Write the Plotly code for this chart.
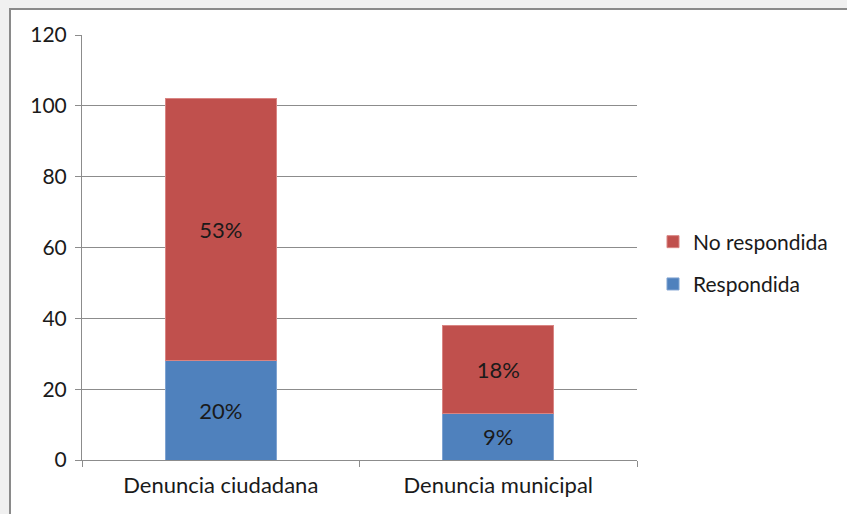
import plotly.graph_objects as go

categories = ["Denuncia ciudadana", "Denuncia municipal"]
respondida = [28, 13]
no_respondida = [74, 25]
respondida_labels = ["20%", "9%"]
no_respondida_labels = ["53%", "18%"]
y_ticks = [0, 20, 40, 60, 80, 100, 120]

FONT = "Lato, Carlito, Calibri, sans-serif"
FS = 22
L, R, T, B = 82, 210, 35, 54
W, H = 847, 514
pw, ph = W - L - R, H - T - B

def px_x(p):
    return (p - L) / pw

def px_y(p):
    return (H - B - p) / ph

fig = go.Figure()
fig.add_trace(go.Bar(
    x=categories, y=respondida, name="Respondida", text=respondida_labels,
    textposition="inside", insidetextanchor="middle",
    marker=dict(color="#4F81BD", line=dict(color="#7fa3d1", width=1)),
    legendgroup="a", legendrank=2,
))
fig.add_trace(go.Bar(
    x=categories, y=no_respondida, name="No respondida", text=no_respondida_labels,
    textposition="inside", insidetextanchor="middle",
    marker=dict(color="#C0504D", line=dict(color="#d98583", width=1)),
    legendgroup="b", legendrank=1,
))

fig.update_traces(textfont=dict(family=FONT, size=FS, color="#1a1a1a"), textangle=0)

fig.add_shape(type="rect", xref="paper", yref="paper",
              x0=px_x(10), x1=px_x(900), y0=px_y(600), y1=px_y(9),
              line=dict(color="#8a8a8a", width=2), fillcolor="white", layer="below")

fig.update_layout(
    width=W, height=H,
    margin=dict(l=L, r=R, t=T, b=B, pad=0, autoexpand=False),
    paper_bgcolor="#f0f0f0", plot_bgcolor="rgba(0,0,0,0)",
    barmode="stack", bargap=0.6,
    font=dict(family=FONT, size=FS, color="#1a1a1a"),
    legend=dict(x=px_x(653), y=px_y(263), xanchor="left", yanchor="middle",
                traceorder="grouped", tracegroupgap=12,
                font=dict(family=FONT, size=21, color="#1a1a1a"),
                bgcolor="rgba(0,0,0,0)", itemwidth=30),
    showlegend=True,
)
fig.update_yaxes(range=[0, 120], tickvals=y_ticks, showgrid=True, gridcolor="#8c8c8c",
                 gridwidth=1, showline=True, linecolor="#8c8c8c", linewidth=1,
                 ticks="outside", ticklen=6, tickcolor="#8c8c8c", zeroline=False,
                 tickfont=dict(family=FONT, size=21, color="#1a1a1a"), ticklabelstandoff=4)
fig.update_xaxes(showline=True, linecolor="#8c8c8c", linewidth=1, ticks="outside",
                 tickson="boundaries", ticklen=6, tickcolor="#8c8c8c",
                 tickfont=dict(family=FONT, size=FS, color="#1a1a1a"), showgrid=False,
                 ticklabelstandoff=6)

fig.write_html("out.html", config={"displayModeBar": False},
               post_script="document.body.style.margin='0';")
